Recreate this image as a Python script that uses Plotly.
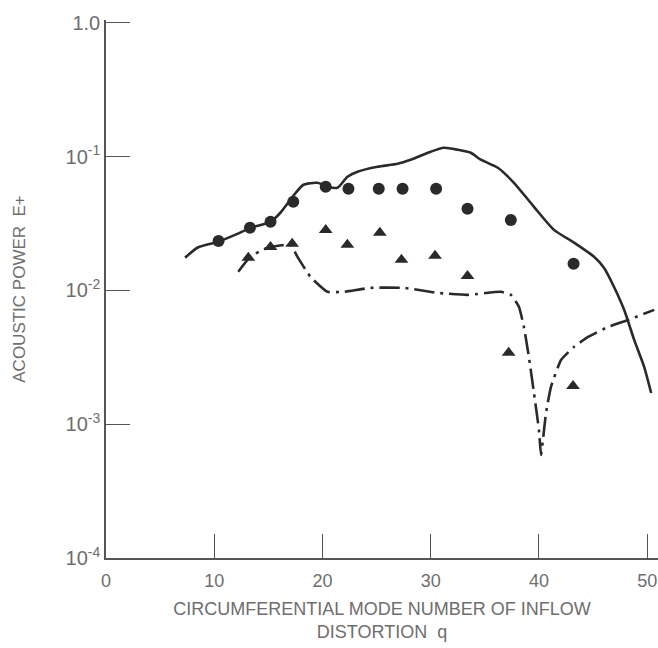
import plotly.graph_objects as go

# Measured acoustic power (circles) vs circumferential mode number q
circle_q = [10.4, 13.3, 15.2, 17.3, 20.3, 22.4, 25.2, 27.4, 30.5, 33.4, 37.4, 43.2]
circle_e = [0.0234, 0.0293, 0.0325, 0.0459, 0.0594, 0.0574, 0.0574, 0.0574,
            0.0574, 0.0407, 0.0336, 0.0158]

# Measured acoustic power (triangles)
tri_q = [13.15, 15.2, 17.2, 20.3, 22.3, 25.3, 27.3, 30.4, 33.4, 37.2, 43.15]
tri_e = [0.0175, 0.0211, 0.0223, 0.0283, 0.0219, 0.0269, 0.0169, 0.0181,
         0.0128, 0.00341, 0.00193]

# Predicted curve (solid)
solid_q = [7.31, 8.43, 10.37, 12.13, 13.33, 15.19, 16.11, 17.31, 18.24, 19.54,
           20.46, 21.39, 22.31, 23.24, 25.09, 26.94, 28.15, 30.0, 31.2, 32.5,
           33.7, 34.63, 36.2, 37.69, 39.54, 41.39, 43.24, 45.09, 46.02, 46.94,
           47.87, 48.8, 49.72, 50.37]
solid_e = [0.0175, 0.0208, 0.0231, 0.0264, 0.0293, 0.0325, 0.038, 0.0509, 0.0615,
           0.0636, 0.0594, 0.0584, 0.0706, 0.0769, 0.0838, 0.0883, 0.0946, 0.1086,
           0.1162, 0.1123, 0.1067, 0.0946, 0.0824, 0.0636, 0.0421, 0.0283, 0.0227,
           0.0178, 0.0147, 0.0106, 0.00715, 0.00426, 0.00268, 0.00171]

# Predicted curve (dash-dot)
dashdot_q = [12.22, 13.33, 14.91, 17.04, 17.69, 18.89, 20.46, 21.94, 24.44, 27.5,
             30.65, 33.43, 36.48, 37.41, 38.15, 38.61, 39.07, 39.54, 40.0, 40.19,
             40.37, 40.65, 41.11, 42.04, 43.24, 44.54, 46.39, 48.24, 50.65]
dashdot_e = [0.01375, 0.0178, 0.0208, 0.0219, 0.0178, 0.0126, 0.00975, 0.00975,
             0.01044, 0.01044, 0.00957, 0.00925, 0.00975, 0.00925, 0.00753,
             0.00533, 0.00318, 0.00171, 0.000906, 0.000589, 0.000763, 0.00121,
             0.0019, 0.00302, 0.00378, 0.00449, 0.00533, 0.00601, 0.00715]

x_ticks = [0, 10, 20, 30, 40, 50]
y_ticks = [1e-4, 1e-3, 1e-2, 1e-1, 1.0]
y_tick_text = ["10<sup>-4</sup>", "10<sup>-3</sup>", "10<sup>-2</sup>",
               "10<sup>-1</sup>", "1.0"]

INK = "#2a2a2a"
TEXT = "#6e6e6e"
FONT = "Liberation Sans, Arial, sans-serif"

fig = go.Figure()
fig.add_trace(go.Scatter(x=solid_q, y=solid_e, mode="lines",
                         line=dict(color=INK, width=2.6, shape="spline", smoothing=0.6)))
fig.add_trace(go.Scatter(x=dashdot_q, y=dashdot_e, mode="lines",
                         line=dict(color=INK, width=2.6, dash="20px,6px,3px,6px",
                                   shape="spline", smoothing=0.4)))
fig.add_trace(go.Scatter(x=circle_q, y=circle_e, mode="markers",
                         marker=dict(symbol="circle", size=12, color=INK)))
fig.add_trace(go.Scatter(x=tri_q, y=tri_e, mode="markers",
                         marker=dict(symbol="triangle-up", size=12, color=INK)))

fig.update_layout(
    width=658, height=648,
    margin=dict(l=106, r=0, t=20, b=90),
    paper_bgcolor="white", plot_bgcolor="white",
    showlegend=False,
    font=dict(family=FONT, size=18, color=TEXT),
)
fig.update_xaxes(
    range=[0, 51], tickvals=x_ticks, ticktext=[str(v) for v in x_ticks],
    ticks="inside", ticklen=24, tickwidth=1.3, tickcolor="#555",
    showline=True, linecolor="#555", linewidth=1.5,
    showgrid=False, zeroline=False,
    ticklabelstandoff=6,
    tickfont=dict(size=18, color=TEXT),
    title=dict(text="CIRCUMFERENTIAL MODE NUMBER OF INFLOW<br>DISTORTION  q",
               font=dict(size=18, color=TEXT), standoff=12),
)
fig.update_yaxes(
    type="log", range=[-4, 0.02], tickvals=y_ticks, ticktext=y_tick_text,
    ticks="inside", ticklen=24, tickwidth=1.3, tickcolor="#555",
    showline=True, linecolor="#555", linewidth=1.5,
    showgrid=False, zeroline=False,
    tickfont=dict(size=20, color=TEXT),
    title=dict(text="ACOUSTIC POWER  E+", font=dict(size=17, color=TEXT), standoff=36),
)

fig.write_html("out.html")
